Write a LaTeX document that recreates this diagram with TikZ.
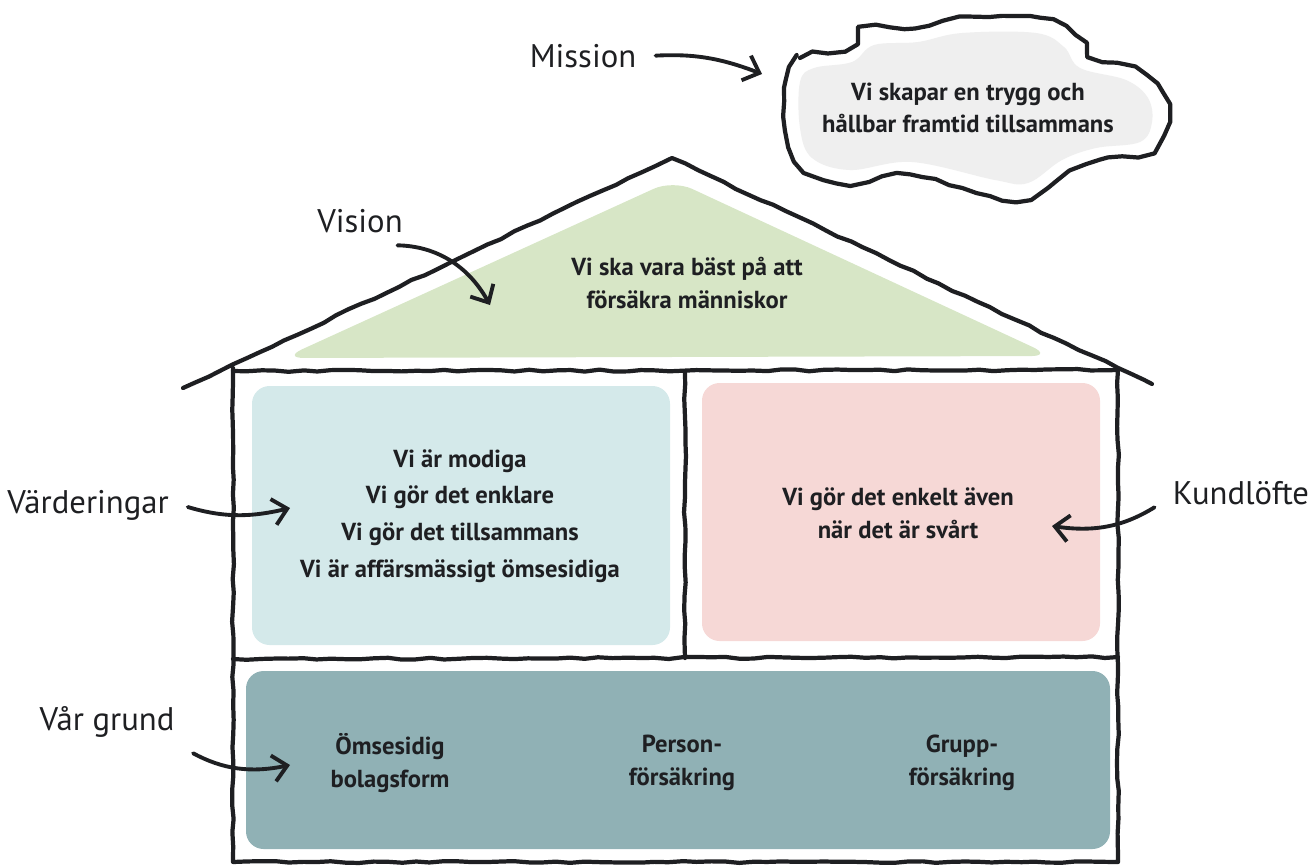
\documentclass[tikz,border=0pt]{standalone}
\usepackage{fontspec}
\setmainfont{PT Sans}
\usetikzlibrary{arrows.meta,decorations.pathmorphing}

\definecolor{ink}{HTML}{1E1F22}
\definecolor{roofgreen}{HTML}{D7E6C6}
\definecolor{valueblue}{HTML}{D4E9EA}
\definecolor{promisepink}{HTML}{F6D8D6}
\definecolor{baseteal}{HTML}{90B1B5}
\definecolor{cloudgrey}{HTML}{EFEFEF}

\tikzset{
	rough/.style={draw=ink, line width=1.2pt, line cap=round, line join=round,
		decorate, decoration={random steps, segment length=4pt, amplitude=0.28pt}},
	lbl/.style={font=\fontsize{9.3}{11}\selectfont, text=ink},
	txt/.style={font=\fontsize{7}{9.3}\selectfont\bfseries, text=ink, align=center},
	pointer/.style={draw=ink, line width=1.1pt, line cap=round,
		-{Straight Barb[length=4pt,width=7.5pt]}, shorten <=2pt},
}

\begin{document}
\pgfmathsetseed{7}
\begin{tikzpicture}[x=0.01cm, y=-0.01cm]
	\useasboundingbox (0,0) rectangle (1312,866);

	% cloud
	\draw[rough, fill=white] plot[smooth cycle, tension=0.6] coordinates {(786,80) (800,58) (845,50) (862,30) (915,28) (960,18) (1040,18) (1075,35) (1090,55) (1135,68) (1162,92) (1167,122) (1150,150) (1100,160) (1070,172) (1030,198) (990,196) (910,175) (850,184) (805,170) (786,130)};
	\fill[cloudgrey] plot[smooth cycle, tension=0.6] coordinates {(800,82) (814,68) (852,62) (874,45) (918,42) (962,33) (1036,33) (1064,47) (1080,68) (1126,80) (1148,98) (1152,122) (1140,142) (1096,148) (1062,160) (1028,183) (995,180) (912,162) (850,170) (812,158) (800,128)};

	% coloured fields
	\fill[roofgreen, rounded corners=6pt] (283,358) -- (673,180) -- (1052,356) -- cycle;
	\fill[valueblue, rounded corners=5pt] (252,386) rectangle (670,645);
	\fill[promisepink, rounded corners=5pt] (702,383) rectangle (1100,641);
	\fill[baseteal, rounded corners=5pt] (246,671) rectangle (1110,849);

	% the house
	\draw[rough] (183,388) -- (672,158) -- (1152,384); % tak
	\draw[rough] (233,371) -- (1118,370);
	\draw[rough] (233,368) -- (233,862) -- (1118,862) -- (1118,370);
	\draw[rough] (685,371) -- (685,658);
	\draw[rough] (233,659) -- (1118,657);

	% texts
	\node[txt] (missiontxt) at (968,108) {Vi skapar en trygg och\\hållbar framtid tillsammans};
	\node[txt] (visiontxt) at (687,283) {Vi ska vara bäst på att\\försäkra människor};
	\node[txt, font=\fontsize{7}{10.4}\selectfont\bfseries] (valuestxt) at (460,516) {Vi är modiga\\Vi gör det enklare\\Vi gör det tillsammans\\Vi är affärsmässigt ömsesidiga};
	\node[txt] (promisetxt) at (898,513) {Vi gör det enkelt även\\när det är svårt};
	\node[txt] (mutualtxt) at (390,763) {Ömsesidig\\bolagsform};
	\node[txt] (persontxt) at (682,763) {Person-\\försäkring};
	\node[txt] (grouptxt) at (962,763) {Grupp-\\försäkring};

	% labels
	\node[lbl] (mission) at (583,56) {Mission};
	\node[lbl] (vision) at (360,221) {Vision};
	\node[lbl] (values) at (88,505) {Värderingar};
	\node[lbl] (promise) at (1241,493) {Kundlöfte};
	\node[lbl] (base) at (107,722) {Vår grund};

	\coordinate (cloudtip) at (762,74);
	\coordinate (visiontip) at (490,305);
	\coordinate (valuestip) at (290,508);
	\coordinate (promisetip) at (1052,526);
	\coordinate (basetip) at (290,765);

	\draw[pointer] (mission.east) to[bend left=12] (cloudtip);
	\draw[pointer] ([xshift=-7pt]vision.south east) to[bend left=30] (visiontip);
	\draw[pointer] (values.east) to[bend right=15] (valuestip);
	\draw[pointer] ([yshift=-3pt]promise.west) to[bend left=20] (promisetip);
	\draw[pointer] (base.south east) to[bend right=20] (basetip);
\end{tikzpicture}
\end{document}
